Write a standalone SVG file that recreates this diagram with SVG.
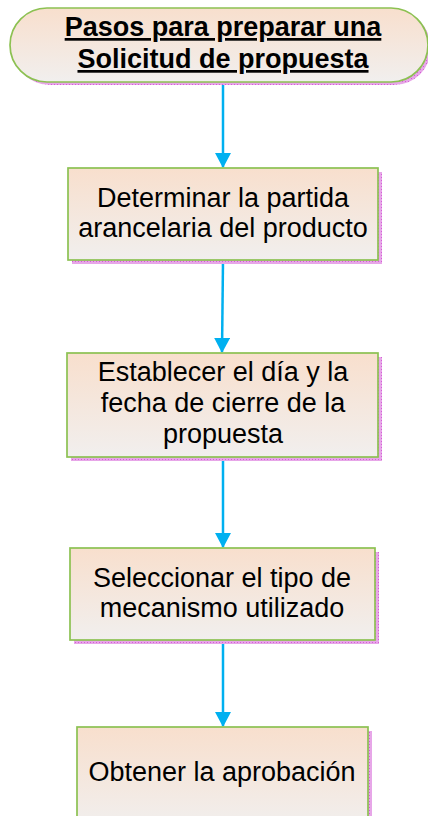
<svg xmlns="http://www.w3.org/2000/svg" width="428" height="816" viewBox="0 0 428 816">
<defs>
<linearGradient id="fill" x1="0" y1="0" x2="0" y2="1">
<stop offset="0" stop-color="#F8DFCD"/>
<stop offset="1" stop-color="#F1EFEE"/>
</linearGradient>
<pattern id="sh" width="3" height="3" patternUnits="userSpaceOnUse">
<rect width="3" height="3" fill="#E7A6E8"/>
<rect width="1" height="1" fill="#D45ED6"/>
</pattern>
<marker id="ah" markerWidth="16" markerHeight="16" refX="14" refY="8" orient="auto" markerUnits="userSpaceOnUse">
<path d="M0,0 L15,8 L0,16 Z" fill="#00B0F0"/>
</marker>
<style>
.box{fill:url(#fill);stroke:#8CC152;stroke-width:1.7}
.shadow{fill:url(#sh)}
.t{font-family:"Liberation Sans",Arial,sans-serif;font-size:27px;fill:#000;text-anchor:middle}
.title{font-family:"Liberation Sans",Arial,sans-serif;font-size:27px;font-weight:bold;fill:#000;text-anchor:middle;text-decoration:underline}
.c{stroke:#00B0F0;stroke-width:2.5;fill:none;marker-end:url(#ah)}
</style>
</defs>
<g id="connectors">
<line class="c" x1="223" y1="83" x2="223" y2="167"/>
<line class="c" x1="223" y1="261" x2="222" y2="352"/>
<line class="c" x1="223" y1="458" x2="223" y2="547"/>
<line class="c" x1="223" y1="641" x2="223" y2="726"/>
</g>
<g id="start">
<rect class="shadow" x="13" y="11" width="418" height="74" rx="37"/>
<rect class="box" x="10" y="8" width="418" height="74" rx="37"/>
<text class="title" x="223" y="36">Pasos para preparar una</text>
<text class="title" x="223" y="68">Solicitud de propuesta</text>
</g>
<g id="step1">
<rect class="shadow" x="72" y="172" width="310" height="92"/>
<rect class="box" x="68" y="168" width="310" height="92"/>
<text class="t" x="223" y="207">Determinar la partida</text>
<text class="t" x="223" y="237">arancelaria del producto</text>
</g>
<g id="step2">
<rect class="shadow" x="71" y="357" width="311" height="104"/>
<rect class="box" x="67" y="353" width="311" height="104"/>
<text class="t" x="223" y="381">Establecer el día y la</text>
<text class="t" x="223" y="412">fecha de cierre de la</text>
<text class="t" x="223" y="443">propuesta</text>
</g>
<g id="step3">
<rect class="shadow" x="74" y="552" width="305" height="92"/>
<rect class="box" x="70" y="548" width="305" height="92"/>
<text class="t" x="222" y="587">Seleccionar el tipo de</text>
<text class="t" x="222" y="617">mecanismo utilizado</text>
</g>
<g id="step4">
<rect class="shadow" x="81" y="731" width="291" height="100"/>
<rect class="box" x="77" y="727" width="291" height="100"/>
<text class="t" x="222" y="781">Obtener la aprobación</text>
</g>
</svg>
